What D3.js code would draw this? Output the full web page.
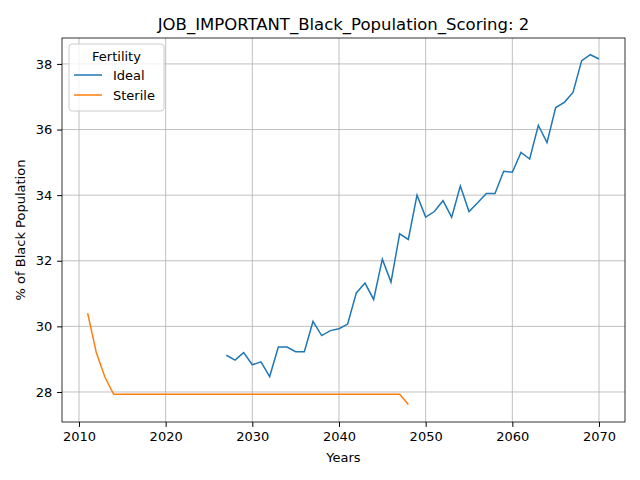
<!DOCTYPE html>
<html><head><meta charset="utf-8">
<script src="https://cdn.jsdelivr.net/npm/d3@7"></script>
<style>body{margin:0;background:#fff}text{font-family:"DejaVu Sans",sans-serif}</style>
</head><body>
<svg id="chart" width="640" height="480"></svg>
<script>
// Ideal series (2027-2070)
var idealYears = d3.range(2027, 2071);
var idealValues = [29.12, 28.97, 29.2, 28.83, 28.92, 28.47, 29.37, 29.37, 29.23, 29.23,
  30.15, 29.72, 29.87, 29.93, 30.07, 31.02, 31.32, 30.82, 32.05, 31.35,
  32.82, 32.65, 34.0, 33.33, 33.5, 33.83, 33.33, 34.28, 33.5, 33.77,
  34.05, 34.05, 34.73, 34.7, 35.3, 35.1, 36.13, 35.6, 36.67, 36.83,
  37.13, 38.1, 38.28, 38.15];
// Sterile series (2011-2048)
var sterileYears = d3.range(2011, 2049);
var sterileValues = [30.4, 29.2, 28.45].concat(d3.range(2014, 2048).map(() => 27.93)).concat([27.62]);
var xTicks = [2010, 2020, 2030, 2040, 2050, 2060, 2070];
var yTicks = [28, 30, 32, 34, 36, 38];

var svg = d3.select("#chart");
var pLeft = 62, pRight = 625, pTop = 38, pBottom = 422;
var x = d3.scaleLinear().domain([2008.04, 2073.0]).range([pLeft, pRight]);
var y = d3.scaleLinear().domain([27.085, 38.79]).range([pBottom, pTop]);

// grid
svg.append("g").selectAll("line").data(xTicks).join("line")
  .attr("x1", d => x(d)).attr("x2", d => x(d)).attr("y1", pTop).attr("y2", pBottom)
  .attr("stroke", "#b0b0b0").attr("stroke-width", 0.8);
svg.append("g").selectAll("line").data(yTicks).join("line")
  .attr("y1", d => y(d)).attr("y2", d => y(d)).attr("x1", pLeft).attr("x2", pRight)
  .attr("stroke", "#b0b0b0").attr("stroke-width", 0.8);

var xAxis = svg.append("g").attr("transform", `translate(0,${pBottom})`)
  .call(d3.axisBottom(x).tickValues(xTicks).tickFormat(d3.format("d")).tickSize(4.9).tickPadding(4.9));
var yAxis = svg.append("g").attr("transform", `translate(${pLeft},0)`)
  .call(d3.axisLeft(y).tickValues(yTicks).tickSize(4.9).tickPadding(4.9));
[xAxis, yAxis].forEach(a => {
  a.select(".domain").remove();
  a.selectAll("text").attr("font-size", 13).attr("fill", "#000").attr("font-family", "DejaVu Sans");
});
svg.append("rect").attr("x", pLeft).attr("y", pTop).attr("width", pRight - pLeft).attr("height", pBottom - pTop)
  .attr("fill", "none").attr("stroke", "#000").attr("stroke-width", 0.8);

var line = d3.line().x(d => x(d[0])).y(d => y(d[1]));
svg.append("path").datum(idealYears.map((yr, i) => [yr, idealValues[i]]))
  .attr("d", line).attr("fill", "none").attr("stroke", "#1f77b4").attr("stroke-width", 1.5);
svg.append("path").datum(sterileYears.map((yr, i) => [yr, sterileValues[i]]))
  .attr("d", line).attr("fill", "none").attr("stroke", "#ff7f0e").attr("stroke-width", 1.5);

svg.append("text").attr("x", (pLeft + pRight) / 2).attr("y", 30).attr("text-anchor", "middle")
  .attr("font-size", 16.5).text("JOB_IMPORTANT_Black_Population_Scoring: 2");
svg.append("text").attr("x", (pLeft + pRight) / 2).attr("y", 462).attr("text-anchor", "middle")
  .attr("font-size", 13).text("Years");
svg.append("text").attr("transform", `translate(25,${(pTop + pBottom) / 2}) rotate(-90)`)
  .attr("text-anchor", "middle").attr("font-size", 13).text("% of Black Population");

// legend
var lg = svg.append("g").attr("transform", "translate(69,44)");
lg.append("rect").attr("width", 95).attr("height", 67).attr("rx", 3)
  .attr("fill", "#fff").attr("fill-opacity", 0.8).attr("stroke", "#ccc");
lg.append("text").attr("x", 47.5).attr("y", 17).attr("text-anchor", "middle").attr("font-size", 13).text("Fertility");
[["Ideal", "#1f77b4"], ["Sterile", "#ff7f0e"]].forEach((d, i) => {
  var yy = 31 + i * 20;
  lg.append("line").attr("x1", 5).attr("x2", 33).attr("y1", yy).attr("y2", yy)
    .attr("stroke", d[1]).attr("stroke-width", 1.5);
  lg.append("text").attr("x", 44).attr("y", yy + 4.5).attr("font-size", 13).text(d[0]);
});
</script>
</body></html>
